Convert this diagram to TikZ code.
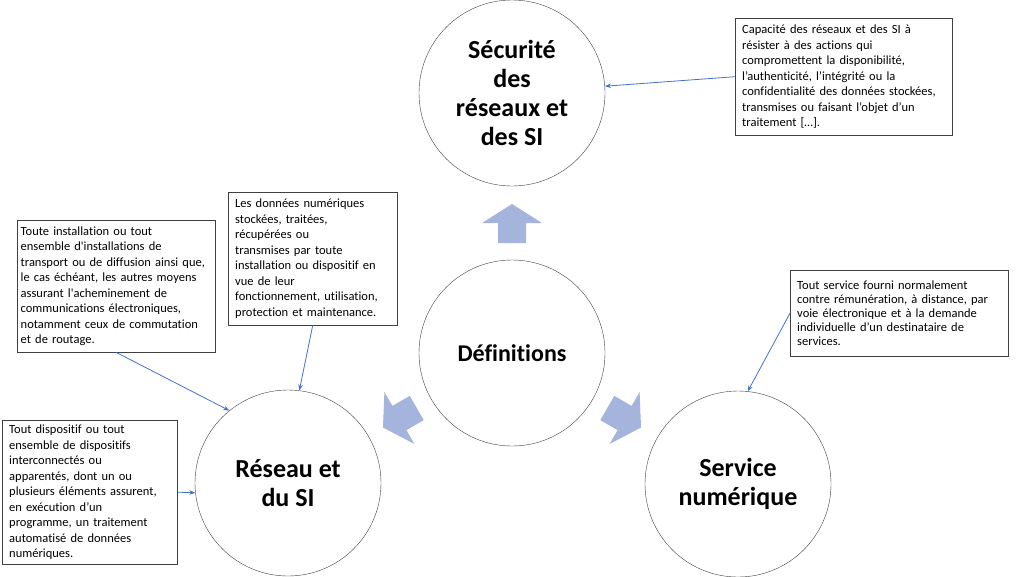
\documentclass[tikz,border=0pt]{standalone}
\usepackage{fontspec}
\setmainfont{Carlito}[Ligatures={TeX,NoCommon}]
\usetikzlibrary{arrows.meta}

\definecolor{linkblue}{RGB}{68,114,196}
\definecolor{blockblue}{RGB}{164,180,220}
\definecolor{edgegray}{RGB}{64,64,64}

\tikzset{
  concept/.style={draw=edgegray, circle, minimum size=186pt, inner sep=0pt,
    align=center, font=\fontsize{26}{29}\selectfont\bfseries},
  defbox/.style={draw=edgegray, rectangle, anchor=north west, align=left,
    inner xsep=7pt, inner ysep=4pt, font=\fontsize{12.5}{15.5}\selectfont},
  link/.style={draw=linkblue, line width=0.8pt, -{Stealth[length=6pt,width=4.5pt]}},
}

\begin{document}
\begin{tikzpicture}[x=1pt, y=-1pt]
\useasboundingbox (0,0) rectangle (1024,576);

\node[concept] (secu) at (512,93) {Sécurité\\des\\réseaux et\\des SI};
\node[concept, font=\fontsize{24}{28}\selectfont\bfseries] (def) at (512,353) {Définitions};
\node[concept] (reseau) at (288,483) {Réseau et\\du SI};
\node[concept] (service) at (738,484) {Service\\numérique};

% block arrows around the centre
\foreach \r in {0,120,-120} {
  \begin{scope}[shift={(def.center)}, rotate=\r]
    \fill[blockblue] (-14,-110) -- (-14,-130) -- (-30,-130) -- (0,-149)
      -- (30,-130) -- (14,-130) -- (14,-110) -- cycle;
  \end{scope}
}

\node[defbox, text width=203pt, minimum height=117pt] (bsecu) at (735,18)
  {Capacité des réseaux et des SI à\\
   résister à des actions qui\\
   compromettent la disponibilité,\\
   l’authenticité, l’intégrité ou la\\
   confidentialité des données stockées,\\
   transmises ou faisant l’objet d’un\\
   traitement […].};
\node[defbox, text width=155pt, minimum height=133pt] (bdon) at (228,192)
  {Les données numériques\\
   stockées, traitées,\\
   récupérées ou\\
   transmises par toute\\
   installation ou dispositif en\\
   vue de leur\\
   fonctionnement, utilisation,\\
   protection et maintenance.};
\node[defbox, text width=191pt, inner xsep=3.5pt, minimum height=132pt] (bres) at (17,220)
  {Toute installation ou tout\\
   ensemble d\textquotesingle installations de\\
   transport ou de diffusion ainsi que,\\
   le cas échéant, les autres moyens\\
   assurant l\textquotesingle acheminement de\\
   communications électroniques,\\
   notamment ceux de commutation\\
   et de routage.};
\node[defbox, text width=161pt, minimum height=144pt] (bsys) at (2,420)
  {Tout dispositif ou tout\\
   ensemble de dispositifs\\
   interconnectés ou\\
   apparentés, dont un ou\\
   plusieurs éléments assurent,\\
   en exécution d’un\\
   programme, un traitement\\
   automatisé de données\\
   numériques.};
\node[defbox, text width=204pt, minimum height=86pt,
  font=\fontsize{12.5}{14}\selectfont] (bserv) at (790,270)
  {Tout service fourni normalement\\
   contre rémunération, à distance, par\\
   voie électronique et à la demande\\
   individuelle d’un destinataire de\\
   services.};

\draw[link] (bsecu.west) -- (secu);
\draw[link] (bres.south) -- (reseau.129);
\draw[link] (bdon.south) -- (reseau.83);
\draw[link] (bsys.east) -- (reseau.186);
\draw[link] (bserv.west) -- (service.84);
\end{tikzpicture}
\end{document}
